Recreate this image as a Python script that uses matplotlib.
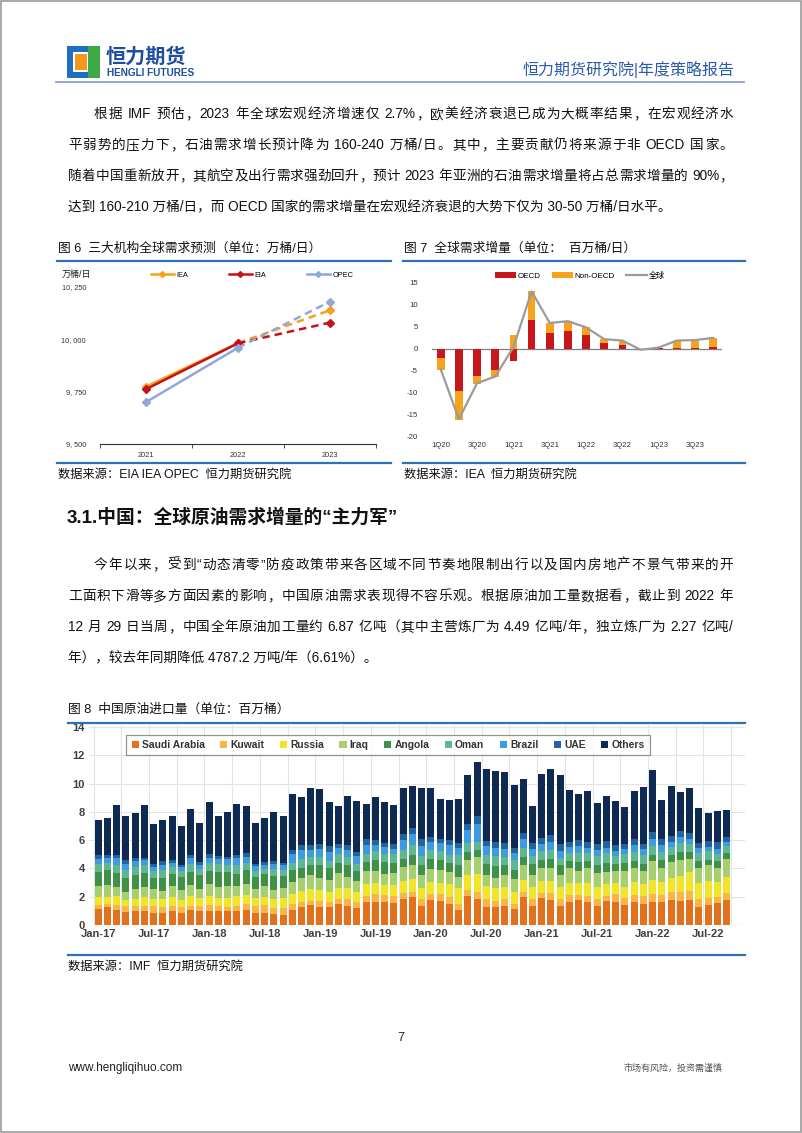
import re

import matplotlib
matplotlib.use("Agg")
import matplotlib.pyplot as plt
import numpy as np
import pandas as pd
from matplotlib.lines import Line2D
from matplotlib.patches import Rectangle

plt.rcParams["font.family"] = ["Liberation Sans", "Noto Sans CJK SC", "DejaVu Sans"]
plt.rcParams["axes.unicode_minus"] = False

W, H = 802, 1133

# ---- figure 6: three agencies' global demand forecast (10k b/d)
years = ["2021", "2022", "2023"]
iea = [9774, 9982, 10139]
eia = [9762, 9981, 10080]
opec = [9700, 9960, 10180]

# ---- figure 7: global demand growth (mb/d)
quarters = ["1Q20", "2Q20", "3Q20", "4Q20", "1Q21", "2Q21", "3Q21", "4Q21",
            "1Q22", "2Q22", "3Q22", "4Q22", "1Q23", "2Q23", "3Q23", "4Q23"]
oecd = [-2.1, -9.6, -6.1, -4.8, -2.7, 6.5, 3.6, 4.0, 3.2, 1.3, 0.9, -0.2, 0.1, 0.3, 0.3, 0.5]
non_oecd = [-2.7, -6.6, -1.9, -1.5, 3.2, 6.7, 2.3, 2.4, 1.7, 1.0, 0.9, -0.1, 0.2, 1.5, 1.6, 2.0]
world = [-4.7, -16.0, -7.8, -6.3, 0.4, 13.1, 5.9, 6.3, 4.9, 2.2, 1.9, -0.2, 0.3, 1.9, 2.0, 2.5]

# ---- figure 8: China crude imports by origin, Jan-17 .. Sep-22
months = pd.date_range("2017-01-01", periods=69, freq="MS").strftime("%b-%y").tolist()
saudi = [1.14, 1.26, 1.07, 0.95, 1.02, 1.02, 0.88, 0.88, 1.02, 0.88, 1.07, 1.02,
         1.02, 1.02, 0.98, 0.98, 1.07, 0.83, 0.83, 0.76, 0.71, 1.07, 1.26, 1.43,
         1.26, 1.26, 1.50, 1.36, 1.19, 1.64, 1.64, 1.64, 1.55, 1.83, 1.98, 1.36,
         1.79, 1.71, 1.50, 1.07, 2.07, 1.83, 1.26, 1.26, 1.36, 1.12, 1.98, 1.36,
         1.88, 1.79, 1.36, 1.60, 1.74, 1.60, 1.36, 1.67, 1.64, 1.45, 1.64, 1.50,
         1.60, 1.60, 1.74, 1.67, 1.79, 1.26, 1.43, 1.55, 1.74]
kuwait = [0.30, 0.25, 0.35, 0.40, 0.30, 0.35, 0.45, 0.40, 0.35, 0.40, 0.30, 0.35,
          0.40, 0.35, 0.30, 0.35, 0.45, 0.50, 0.55, 0.45, 0.50, 0.40, 0.35, 0.30,
          0.45, 0.40, 0.35, 0.50, 0.45, 0.40, 0.55, 0.45, 0.50, 0.40, 0.35, 0.45,
          0.40, 0.45, 0.50, 0.45, 0.40, 0.50, 0.55, 0.45, 0.50, 0.40, 0.35, 0.45,
          0.40, 0.50, 0.45, 0.55, 0.40, 0.45, 0.50, 0.40, 0.55, 0.45, 0.50, 0.55,
          0.60, 0.55, 0.60, 0.70, 0.65, 0.55, 0.50, 0.45, 0.50]
russia = [0.55, 0.50, 0.60, 0.45, 0.55, 0.60, 0.50, 0.55, 0.60, 0.50, 0.65, 0.55,
          0.60, 0.55, 0.65, 0.70, 0.60, 0.55, 0.60, 0.65, 0.70, 0.75, 0.80, 0.85,
          0.75, 0.70, 0.80, 0.75, 0.70, 0.85, 0.80, 0.75, 0.80, 0.85, 0.90, 0.80,
          0.85, 0.80, 0.90, 1.10, 1.05, 1.30, 0.95, 0.90, 0.85, 0.80, 0.85, 0.90,
          0.85, 0.80, 0.90, 0.85, 0.80, 0.90, 0.85, 0.80, 0.75, 0.80, 0.90, 0.85,
          0.95, 0.90, 1.00, 1.10, 1.30, 1.15, 1.20, 1.05, 1.15]
iraq = [0.75, 0.80, 0.70, 0.55, 0.65, 0.75, 0.70, 0.60, 0.80, 0.70, 0.80, 0.60,
        0.85, 0.75, 0.80, 0.70, 0.75, 0.70, 0.75, 0.65, 0.70, 0.85, 0.90, 0.95,
        0.90, 0.85, 1.00, 0.80, 0.75, 0.90, 0.85, 0.80, 0.85, 1.00, 1.05, 0.90,
        0.95, 0.90, 0.85, 0.80, 1.10, 1.20, 0.80, 0.75, 0.85, 0.90, 1.05, 0.80,
        0.90, 0.95, 0.85, 1.00, 0.90, 1.05, 0.95, 0.90, 0.85, 1.10, 1.00, 0.90,
        1.35, 1.00, 1.10, 1.15, 0.95, 1.05, 1.10, 1.00, 1.30]
angola = [1.00, 1.10, 0.95, 1.00, 1.05, 0.95, 0.80, 0.90, 0.85, 0.95, 0.90, 1.00,
          0.95, 1.05, 1.00, 0.90, 1.00, 0.80, 0.85, 0.95, 0.85, 0.80, 0.75, 0.70,
          0.85, 0.80, 0.75, 0.80, 0.70, 0.65, 0.75, 0.80, 0.70, 0.60, 0.65, 0.75,
          0.70, 0.75, 0.65, 0.80, 0.55, 0.50, 0.75, 0.80, 0.65, 0.70, 0.55, 0.80,
          0.55, 0.60, 0.65, 0.50, 0.60, 0.55, 0.60, 0.65, 0.55, 0.60, 0.50, 0.55,
          0.45, 0.55, 0.50, 0.55, 0.45, 0.50, 0.40, 0.45, 0.40]
oman = [0.55, 0.50, 0.60, 0.55, 0.50, 0.55, 0.50, 0.55, 0.45, 0.40, 0.60, 0.45,
        0.55, 0.60, 0.50, 0.60, 0.55, 0.45, 0.40, 0.50, 0.45, 0.55, 0.60, 0.55,
        0.60, 0.55, 0.65, 0.60, 0.55, 0.60, 0.65, 0.55, 0.60, 0.65, 0.70, 0.60,
        0.65, 0.60, 0.55, 0.70, 0.60, 0.55, 0.65, 0.70, 0.60, 0.65, 0.70, 0.60,
        0.65, 0.70, 0.55, 0.60, 0.65, 0.55, 0.60, 0.65, 0.55, 0.60, 0.65, 0.60,
        0.65, 0.60, 0.55, 0.65, 0.60, 0.55, 0.60, 0.55, 0.50]
brazil = [0.40, 0.35, 0.45, 0.40, 0.45, 0.35, 0.30, 0.40, 0.35, 0.25, 0.40, 0.30,
          0.40, 0.35, 0.45, 0.50, 0.40, 0.35, 0.30, 0.35, 0.30, 0.60, 0.65, 0.55,
          0.55, 0.60, 0.40, 0.50, 0.55, 0.65, 0.45, 0.50, 0.35, 0.70, 0.80, 0.75,
          0.55, 0.60, 0.70, 0.50, 0.95, 1.30, 0.65, 0.60, 0.55, 0.50, 0.60, 0.45,
          0.50, 0.55, 0.45, 0.40, 0.50, 0.35, 0.45, 0.40, 0.35, 0.40, 0.45, 0.40,
          0.50, 0.45, 0.40, 0.40, 0.35, 0.40, 0.30, 0.35, 0.30]
uae = [0.25, 0.20, 0.25, 0.30, 0.25, 0.20, 0.20, 0.25, 0.20, 0.15, 0.25, 0.20,
       0.25, 0.20, 0.15, 0.20, 0.25, 0.15, 0.20, 0.20, 0.15, 0.30, 0.35, 0.30,
       0.35, 0.40, 0.30, 0.35, 0.30, 0.40, 0.35, 0.30, 0.35, 0.40, 0.45, 0.50,
       0.35, 0.30, 0.35, 0.40, 0.45, 0.55, 0.35, 0.40, 0.45, 0.35, 0.40, 0.45,
       0.40, 0.45, 0.50, 0.40, 0.45, 0.40, 0.45, 0.50, 0.40, 0.35, 0.45, 0.40,
       0.50, 0.45, 0.40, 0.45, 0.40, 0.35, 0.40, 0.45, 0.35]
# bar tops; "Others" fills the rest of each bar
totals = [7.45, 7.57, 8.48, 7.74, 7.90, 8.48, 7.17, 7.45, 7.71, 7.02, 8.21, 7.21,
          8.69, 7.69, 8.02, 8.55, 8.40, 7.24, 7.57, 7.98, 7.69, 9.24, 9.05, 9.67,
          9.60, 8.71, 8.45, 9.10, 8.80, 8.57, 9.05, 8.71, 8.50, 9.67, 9.83, 9.67,
          9.71, 8.93, 8.83, 8.93, 10.60, 11.55, 11.05, 10.88, 10.86, 9.88, 10.31, 8.45,
          10.71, 11.07, 10.60, 9.55, 9.29, 9.48, 8.64, 9.12, 8.76, 8.33, 9.48, 9.76,
          10.98, 8.83, 9.83, 9.43, 9.71, 8.29, 7.95, 8.10, 8.15]

origins = ["Saudi Arabia", "Kuwait", "Russia", "Iraq", "Angola", "Oman", "Brazil", "UAE", "Others"]
origin_colors = ["#E2711D", "#F9B548", "#F2E427", "#A6D06E", "#3E9146",
                 "#5DB891", "#3E9BE0", "#22649F", "#0E2A52"]

BLUE = "#2C72B8"


def fx(x):
    return x / W


def fy(y):
    return 1 - y / H


def hline(fig, x0, x1, y, color=BLUE, lw=1.6):
    fig.add_artist(Line2D([fx(x0), fx(x1)], [fy(y), fy(y)], transform=fig.transFigure,
                          color=color, lw=lw))


def add_ax(fig, x0, y0, x1, y1):
    return fig.add_axes([fx(x0), fy(y1), (x1 - x0) / W, (y1 - y0) / H])


def justified(fig, renderer, x0, x1, y, s, size, color="#111111"):
    tokens = re.findall(r"[A-Za-z0-9.%\-/]+|\s+|.", s)
    arts, widths = [], []
    for t in tokens:
        a = fig.text(0, 0, t, fontsize=size, color=color, va="center", ha="left")
        widths.append(a.get_window_extent(renderer).width)
        arts.append(a)
    extra = (x1 - x0) - sum(widths)
    gap = extra / max(len(tokens) - 1, 1)
    x = x0
    for a, w in zip(arts, widths):
        a.set_position((fx(x), fy(y)))
        x += w + gap


def plain(fig, x, y, s, size, color="#111111", **kw):
    fig.text(fx(x), fy(y), s, fontsize=size, color=color, va="center", ha="left", **kw)


fig = plt.figure(figsize=(W / 100, H / 100), dpi=100)
renderer = fig.canvas.get_renderer()

# page frame
fig.add_artist(Rectangle((0.001, 0.001), 0.998, 0.998, transform=fig.transFigure,
                         fill=False, edgecolor="#9a9a9a", lw=1.2))

# ---- header
fig.add_artist(Rectangle((fx(67), fy(78)), 33 / W, 32 / H, transform=fig.transFigure,
                         facecolor="#1F6FC0", edgecolor="none"))
fig.add_artist(Rectangle((fx(73), fy(72)), 21 / W, 20 / H, transform=fig.transFigure,
                         facecolor="white", edgecolor="none"))
fig.add_artist(Rectangle((fx(75), fy(70)), 12 / W, 16 / H, transform=fig.transFigure,
                         facecolor="#F39A1E", edgecolor="none"))
fig.add_artist(Rectangle((fx(88), fy(78)), 12 / W, 32 / H, transform=fig.transFigure,
                         facecolor="#3DAA47", edgecolor="none"))
plain(fig, 106, 57, "恒力期货", 14.5, color="#1E4F9C", fontweight="bold")
plain(fig, 107, 73, "HENGLI FUTURES", 7.2, color="#1E4F9C", fontweight="bold")
fig.text(fx(735), fy(69), "恒力期货研究院|年度策略报告", fontsize=11.5, color="#2B5BA8",
         ha="right", va="center")
hline(fig, 56, 744, 82, color="#8BA3C9", lw=1.3)

# ---- paragraph 1
p1 = ["根据 IMF 预估，2023 年全球宏观经济增速仅 2.7%，欧美经济衰退已成为大概率结果，在宏观经济水",
      "平弱势的压力下，石油需求增长预计降为 160-240 万桶/日。其中，主要贡献仍将来源于非 OECD 国家。",
      "随着中国重新放开，其航空及出行需求强劲回升，预计 2023 年亚洲的石油需求增量将占总需求增量的 90%，",
      "达到 160-210 万桶/日，而 OECD 国家的需求增量在宏观经济衰退的大势下仅为 30-50 万桶/日水平。"]
ys = [114, 145, 176, 207]
justified(fig, renderer, 94, 733, ys[0], p1[0], 9.8)
justified(fig, renderer, 68, 733, ys[1], p1[1], 9.8)
justified(fig, renderer, 68, 733, ys[2], p1[2], 9.8)
plain(fig, 68, ys[3], p1[3], 9.8)

# ---- figure 6
plain(fig, 58, 249, "图 6  三大机构全球需求预测（单位：万桶/日）", 9.2)
hline(fig, 57, 391, 261)
hline(fig, 57, 391, 463)
plain(fig, 58, 475, "数据来源：EIA IEA OPEC  恒力期货研究院", 8.8)

ax6 = add_ax(fig, 100, 287, 376, 444)
xi = np.arange(len(years))
for vals, col, name in [(iea, "#F5A21B", "IEA"), (eia, "#C3121C", "EIA"), (opec, "#8FA8D8", "OPEC")]:
    ax6.plot(xi[:2], vals[:2], color=col, lw=1.8, marker="D", ms=4.5, zorder=3)
    ax6.plot(xi[1:], vals[1:], color=col, lw=1.8, ls=(0, (3, 2)), marker="D", ms=4.5,
             markevery=[1], zorder=3)
ax6.set_xlim(-0.5, 2.5)
ax6.set_ylim(9500, 10250)
ax6.set_yticks([9500, 9750, 10000, 10250])
ax6.set_yticklabels(["9, 500", "9, 750", "10, 000", "10, 250"])
ax6.set_xticks(xi)
ax6.set_xticklabels(years)
ax6.set_xticks([-0.5, 0.5, 1.5, 2.5], minor=True)
ax6.tick_params(axis="both", which="major", length=0, labelsize=5.3, colors="#333333")
ax6.tick_params(axis="x", which="major", pad=6)
ax6.tick_params(axis="x", which="minor", length=3, color="#333333", direction="out")
ax6.tick_params(axis="y", pad=10)
for sp in ["top", "right", "left"]:
    ax6.spines[sp].set_visible(False)
ax6.spines["bottom"].set_color("#333333")
ax6.spines["bottom"].set_linewidth(0.8)
ax6.patch.set_alpha(0)
plain(fig, 62, 274, "万桶/日", 6.5, color="#222222")
handles6 = [Line2D([], [], color=c, lw=1.8, marker="D", ms=3) for c in ["#F5A21B", "#C3121C", "#8FA8D8"]]
fig.legend(handles6, ["IEA", "EIA", "OPEC"], loc="center", bbox_to_anchor=(fx(252), fy(275)),
           ncol=3, frameon=False, fontsize=5.3, handlelength=3.2, handletextpad=0.3,
           columnspacing=5.5)

# ---- figure 7
plain(fig, 404, 249, "图 7  全球需求增量（单位：  百万桶/日）", 9.2)
hline(fig, 403, 745, 261)
hline(fig, 403, 745, 463)
plain(fig, 404, 475, "数据来源：IEA  恒力期货研究院", 8.8)

ax7 = add_ax(fig, 431.7, 283, 722.3, 436.7)
qi = np.arange(len(quarters))
oecd_a = np.array(oecd)
non_a = np.array(non_oecd)
non_bottom = np.where(np.sign(non_a) == np.sign(oecd_a), oecd_a, 0)
b1 = ax7.bar(qi, oecd_a, width=0.42, color="#C8161D", zorder=2)
b2 = ax7.bar(qi, non_a, width=0.42, bottom=non_bottom, color="#F7A31C", zorder=2)
l1, = ax7.plot(qi, world, color="#9B9B9B", lw=1.6, zorder=3)
ax7.axhline(0, color="#7f7f7f", lw=0.9, zorder=1)
ax7.set_xlim(-0.5, 15.5)
ax7.set_ylim(-20, 15)
ax7.set_yticks(range(-20, 16, 5))
ax7.set_xticks(qi[::2])
ax7.set_xticklabels(quarters[::2])
ax7.tick_params(length=0, labelsize=5.6, colors="#333333")
ax7.tick_params(axis="x", pad=4)
ax7.tick_params(axis="y", pad=10)
for sp in ax7.spines.values():
    sp.set_visible(False)
ax7.patch.set_alpha(0)
fig.legend([b1, b2, l1], ["OECD", "Non-OECD", "全球"], loc="center",
           bbox_to_anchor=(fx(580), fy(276)), ncol=3, frameon=False, fontsize=5.8,
           handlelength=2.6, handletextpad=0.2, columnspacing=1.4)

# ---- section heading + paragraph 2
plain(fig, 67, 517, "3.1.中国：全球原油需求增量的“主力军”", 13.5, fontweight="bold")
p2 = ["今年以来，受到“动态清零”防疫政策带来各区域不同节奏地限制出行以及国内房地产不景气带来的开",
      "工面积下滑等多方面因素的影响，中国原油需求表现得不容乐观。根据原油加工量数据看，截止到 2022 年",
      "12 月 29 日当周，中国全年原油加工量约 6.87 亿吨（其中主营炼厂为 4.49 亿吨/年，独立炼厂为 2.27 亿吨/",
      "年），较去年同期降低 4787.2 万吨/年（6.61%）。"]
ys2 = [565, 596, 627, 658]
justified(fig, renderer, 94, 733, ys2[0], p2[0], 9.8)
justified(fig, renderer, 68, 733, ys2[1], p2[1], 9.8)
justified(fig, renderer, 68, 733, ys2[2], p2[2], 9.8)
plain(fig, 68, ys2[3], p2[3], 9.8)

# ---- figure 8
plain(fig, 68, 710, "图 8  中国原油进口量（单位：百万桶）", 9.2)
hline(fig, 68, 745, 723)
hline(fig, 68, 745, 955)
plain(fig, 68, 967, "数据来源：IMF  恒力期货研究院", 8.8)

ax8 = add_ax(fig, 89, 725, 745, 925)
mi = np.arange(len(months))
series = [saudi, kuwait, russia, iraq, angola, oman, brazil, uae]
bottom = np.zeros(len(months))
for vals, col, name in zip(series, origin_colors[:-1], origins[:-1]):
    ax8.bar(mi, vals, width=0.76, bottom=bottom, color=col, label=name, zorder=2)
    bottom = bottom + np.array(vals)
ax8.bar(mi, np.array(totals) - bottom, width=0.76, bottom=bottom, color=origin_colors[-1],
        label=origins[-1], zorder=2)
ax8.set_xlim(-1.0, 70.0)
ax8.set_ylim(0, 14.15)
ax8.set_yticks(range(0, 15, 2))
ax8.set_xticks(mi[::6])
ax8.set_xticklabels(months[::6])
ax8.set_xticks(np.arange(-0.5, 70, 3), minor=True)
ax8.grid(axis="x", which="minor", color="#e4e4e4", lw=0.8, zorder=0)
ax8.grid(axis="y", which="major", color="#e4e4e4", lw=0.8, zorder=0)
ax8.tick_params(which="both", length=0)
ax8.tick_params(labelsize=8, colors="#404040", pad=3)
for lab in ax8.get_xticklabels() + ax8.get_yticklabels():
    lab.set_fontweight("bold")
for sp in ax8.spines.values():
    sp.set_visible(False)
ax8.axhline(0, color="#d0d0d0", lw=0.8, zorder=1)
leg8 = ax8.legend(loc="center", bbox_to_anchor=(fx(388), fy(745)), bbox_transform=fig.transFigure,
                  ncol=9, prop={"weight": "bold", "size": 7.4}, frameon=True,
                  fancybox=False, edgecolor="#7a7a7a", handlelength=0.7, handleheight=0.7,
                  handletextpad=0.3, columnspacing=1.5, borderpad=0.5)
leg8.get_frame().set_linewidth(0.9)
for t in leg8.get_texts():
    t.set_color("#333333")

# ---- footer
fig.text(fx(401), fy(1038), "7", fontsize=9, ha="center", va="center", color="#222222")
plain(fig, 68, 1068, "www.hengliqihuo.com", 8.5, color="#222222")
fig.text(fx(722), fy(1068), "市场有风险，投资需谨慎", fontsize=6.5, ha="right", va="center",
         color="#555555")

fig.savefig("out.png", dpi=100)
plt.close(fig)
